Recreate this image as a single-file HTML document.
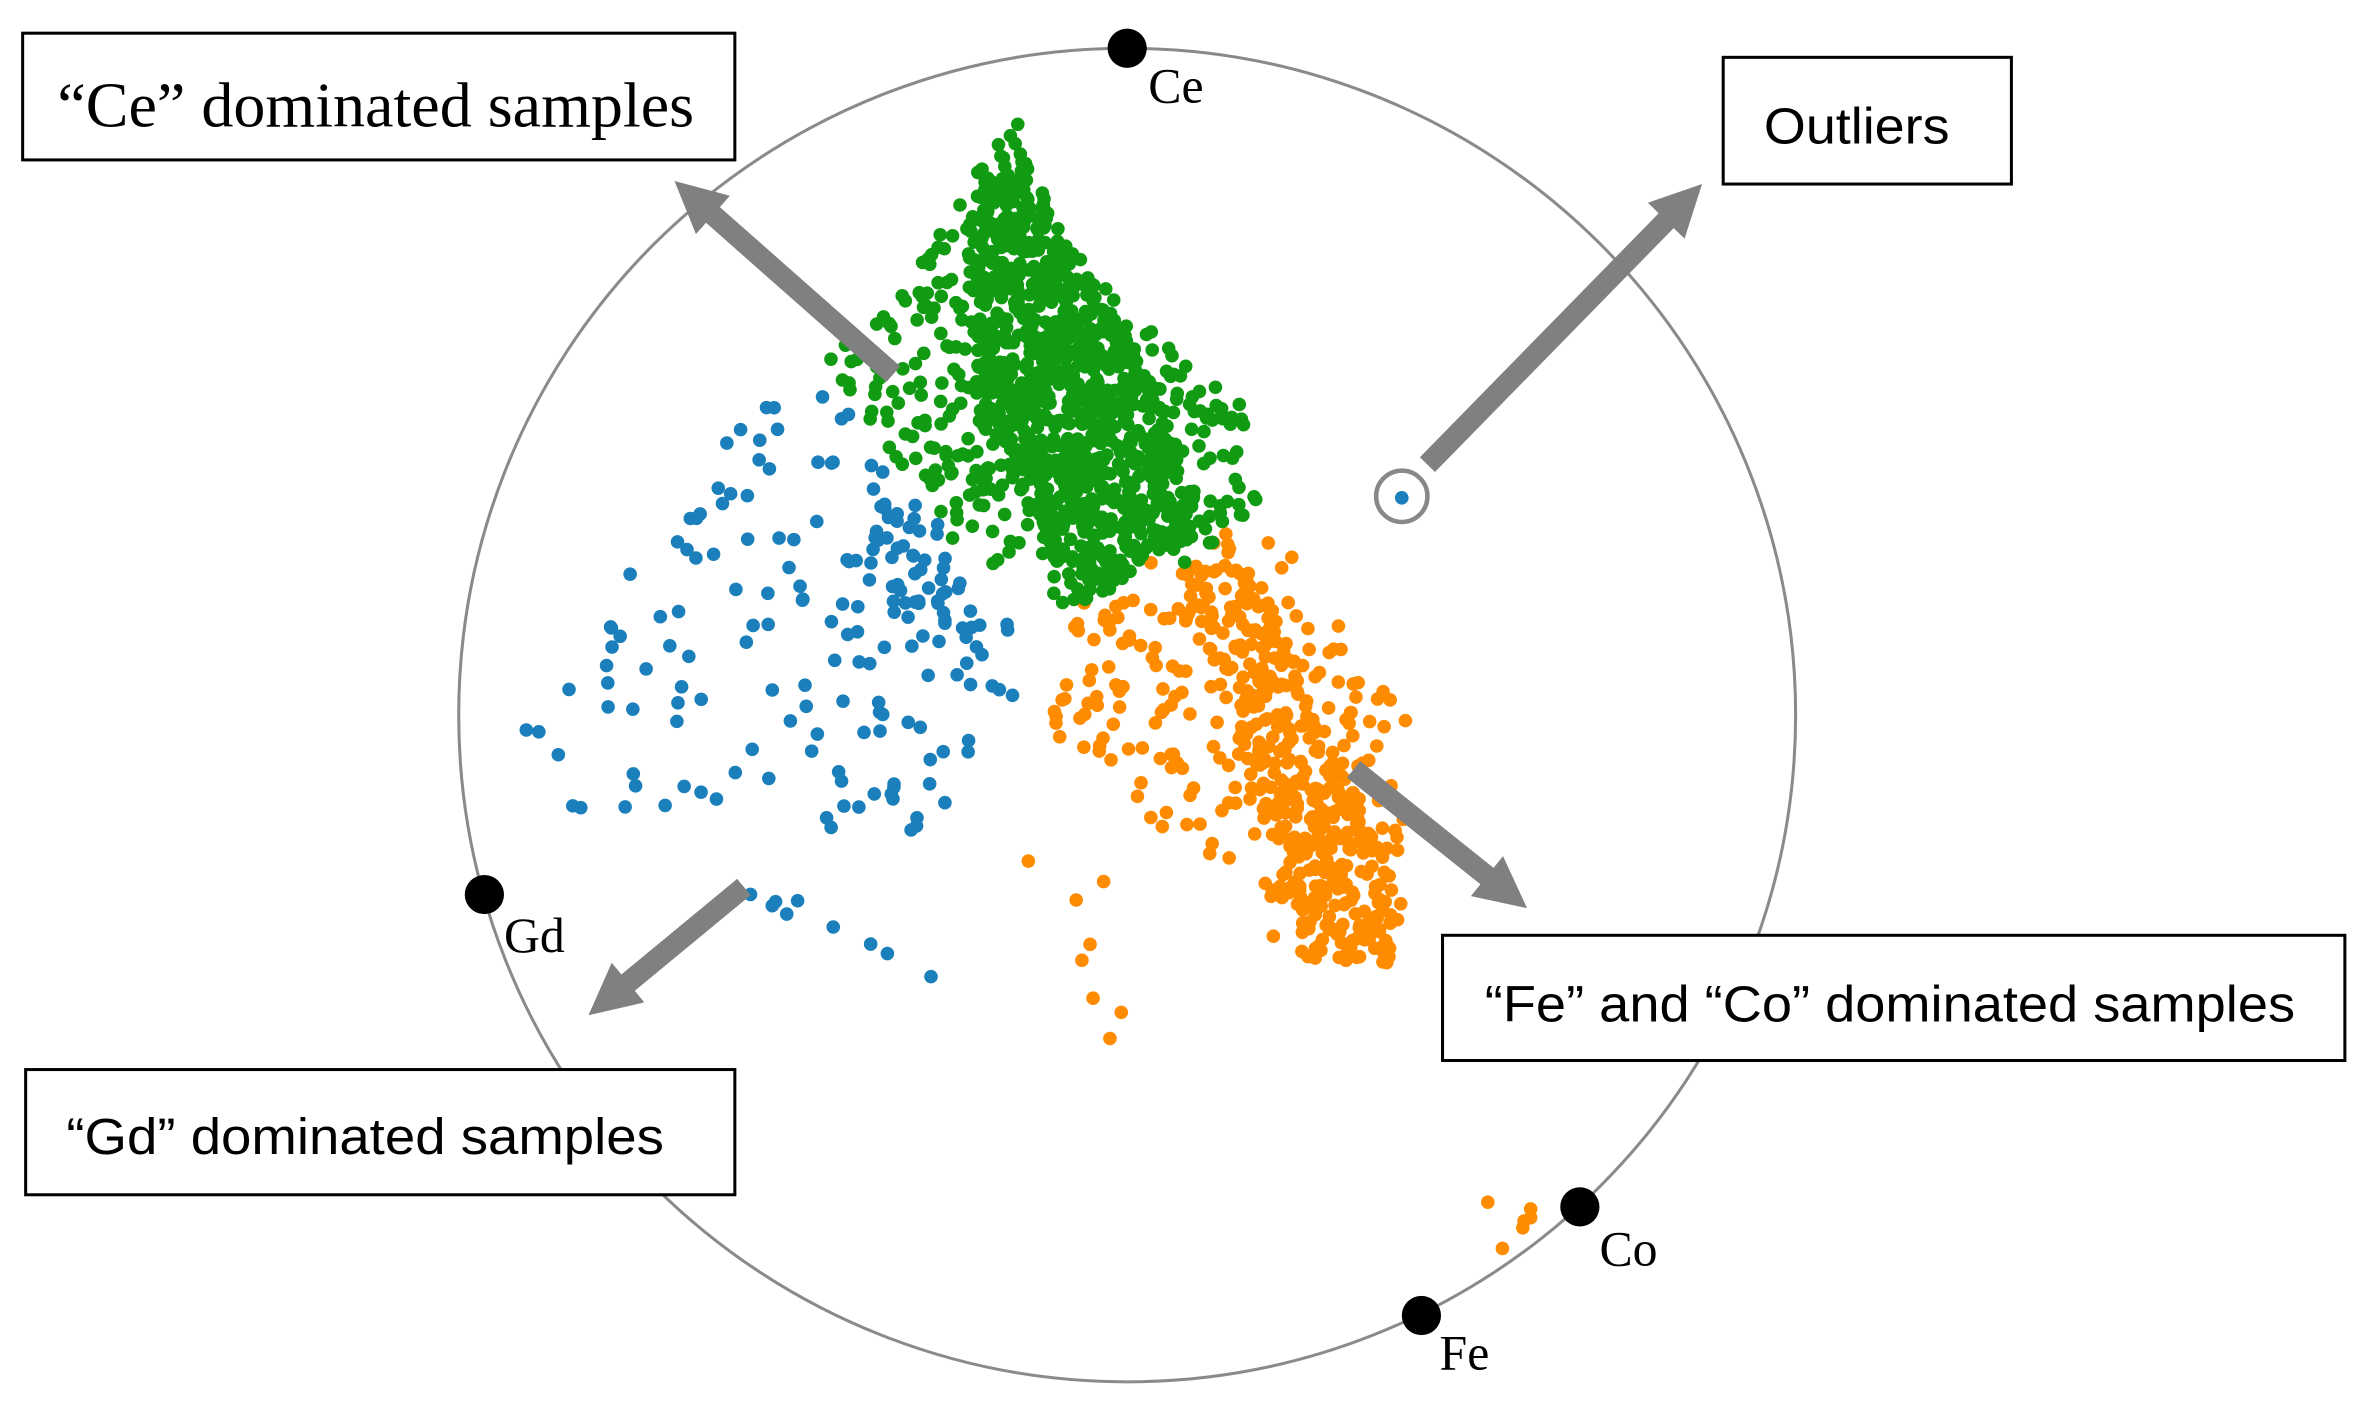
<!DOCTYPE html>
<html><head><meta charset="utf-8"><style>
html,body{margin:0;padding:0;background:#fff;}
svg{display:block;}
.serif{font-family:"Liberation Serif",serif;}
.sans{font-family:"Liberation Sans",sans-serif;}
</style></head><body>
<svg id="s" width="2366" height="1412" viewBox="0 0 1568 936" preserveAspectRatio="none" xmlns="http://www.w3.org/2000/svg">
<rect width="1568" height="936" fill="#fff"/>
<ellipse cx="747" cy="474" rx="443" ry="442" fill="none" stroke="#8a8a8a" stroke-width="2"/>
<g id="pts"></g>
<circle cx="929" cy="329" r="17" fill="#fff" stroke="#888" stroke-width="3"/>
<circle cx="929" cy="330" r="4.5" fill="#1a7fbb"/>
<g fill="#808080" stroke="none">
<path id="a1"/><path id="a2"/><path id="a3"/><path id="a4"/>
</g>
<g fill="#000">
<circle cx="747" cy="32" r="13"/><circle cx="321" cy="593" r="13"/>
<circle cx="1047" cy="800" r="13"/><circle cx="942" cy="872" r="13"/>
</g>
<g class="serif" font-size="33" fill="#000">
<text x="761" y="68">Ce</text><text x="334" y="631">Gd</text>
<text x="1060" y="839">Co</text><text x="954" y="908">Fe</text>
</g>
<g fill="#fff" stroke="#000" stroke-width="2">
<rect x="15" y="22" width="472" height="84"/>
<rect x="1142" y="38" width="191" height="84"/>
<rect x="956" y="620" width="598" height="83"/>
<rect x="17" y="709" width="470" height="83"/>
</g>
<text class="serif" x="38" y="84" font-size="42" textLength="422" lengthAdjust="spacingAndGlyphs">“Ce” dominated samples</text>
<text class="sans" x="1169" y="95" font-size="34" textLength="123" lengthAdjust="spacingAndGlyphs">Outliers</text>
<text class="sans" x="984" y="677" font-size="34" textLength="537" lengthAdjust="spacingAndGlyphs">“Fe” and “Co” dominated samples</text>
<text class="sans" x="44" y="765" font-size="34" textLength="396" lengthAdjust="spacingAndGlyphs">“Gd” dominated samples</text>
</svg>
<script>
var seed=7;function r(){seed=(seed*16807)%2147483647;return (seed-1)/2147483646;}
function inPoly(x,y,p){var c=false;for(var i=0,j=p.length-1;i<p.length;j=i++){var xi=p[i][0],yi=p[i][1],xj=p[j][0],yj=p[j][1];if(((yi>y)!=(yj>y))&&(x<(xj-xi)*(y-yi)/(yj-yi)+xi))c=!c;}return c;}
var g=document.getElementById('pts'),out='';
function fill(poly,n,col){var xs=poly.map(p=>p[0]),ys=poly.map(p=>p[1]);var x0=Math.min(...xs),x1=Math.max(...xs),y0=Math.min(...ys),y1=Math.max(...ys);var k=0,t=0;while(k<n&&t<100000){t++;var x=x0+r()*(x1-x0),y=y0+r()*(y1-y0);if(inPoly(x,y,poly)){out+='<circle cx="'+x.toFixed(1)+'" cy="'+y.toFixed(1)+'" r="4.5" fill="'+col+'"/>';k++;}}}
var B='#1a7fbb',G='#119b12',O='#ff8c00';
fill([[530,230],[600,320],[690,440],[640,520],[600,560],[430,560],[330,510],[430,350]],150,B);
fill([[570,330],[620,340],[660,440],[600,420]],40,B);
fill([[560,610],[640,660],[540,610]],4,B);
fill([[490,590],[545,595],[525,615]],5,B);
fill([[700,410],[800,350],[850,360],[940,490],[920,640],[855,635],[780,560],[690,480]],260,O);
fill([[780,370],[830,375],[930,600],[920,640],[870,635]],320,O);
fill([[650,570],[720,560],[800,700],[700,700]],8,O);
fill([[985,795],[1030,795],[995,830]],6,O);
fill([[672,75],[720,180],[830,275],[840,330],[780,380],[715,410],[620,350],[540,235],[600,190]],450,G);
fill([[672,80],[700,150],[770,260],[800,350],[715,400],[650,280],[640,150]],800,G);
g.innerHTML=out;
function arrow(id,x1,y1,x2,y2,w,hw,hl){var dx=x2-x1,dy=y2-y1,L=Math.hypot(dx,dy),ux=dx/L,uy=dy/L,nx=-uy,ny=ux;var bx=x2-ux*hl,by=y2-uy*hl;var p=[[x1+nx*w/2,y1+ny*w/2],[bx+nx*w/2,by+ny*w/2],[bx+nx*hw/2,by+ny*hw/2],[x2,y2],[bx-nx*hw/2,by-ny*hw/2],[bx-nx*w/2,by-ny*w/2],[x1-nx*w/2,y1-ny*w/2]];document.getElementById(id).setAttribute('d','M'+p.map(q=>q[0].toFixed(1)+','+q[1].toFixed(1)).join('L')+'Z');}
arrow('a1',592,248,447,120,14,34,34);
arrow('a2',946,308,1128,122,14,34,34);
arrow('a3',897,510,1012,602,14,34,34);
arrow('a4',493,588,390,673,14,34,34);
</script>
</body></html>
